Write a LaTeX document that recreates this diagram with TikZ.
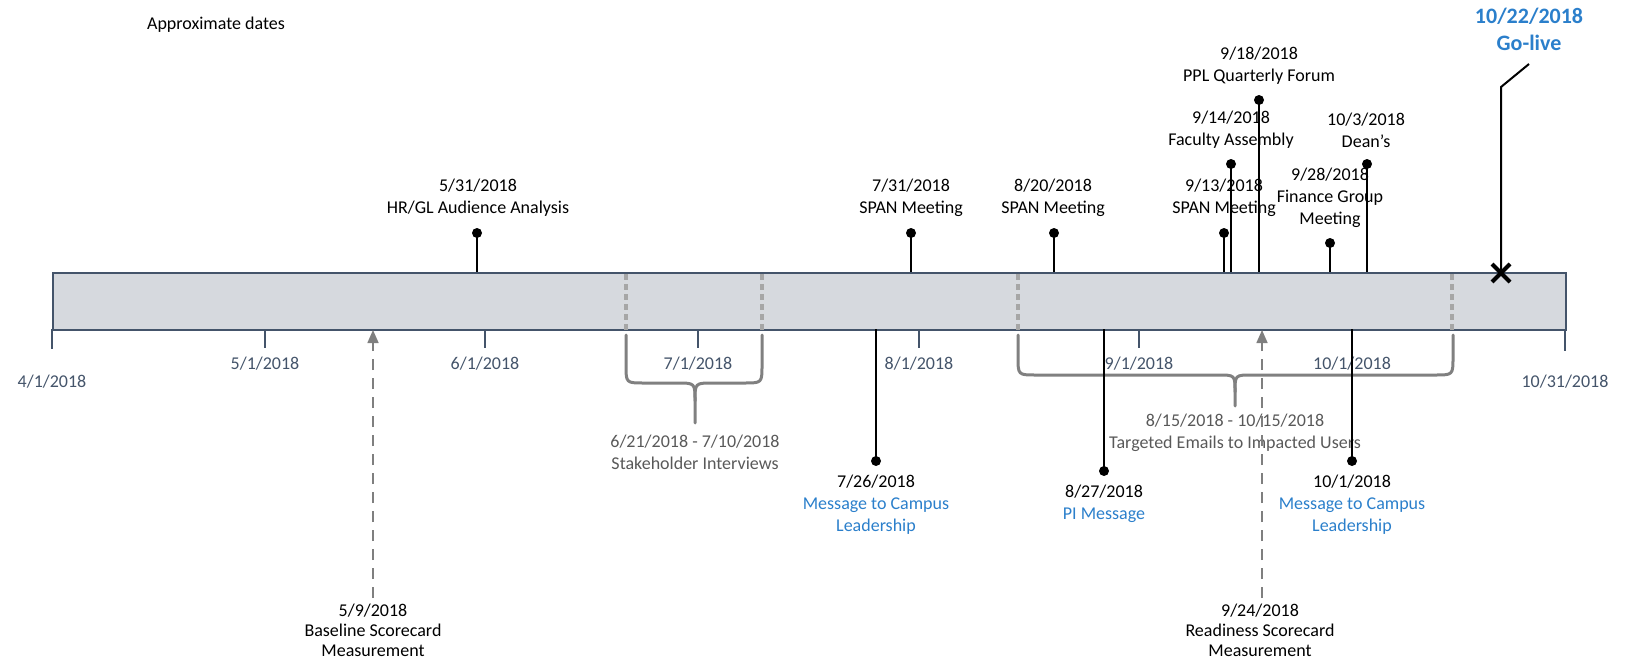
\documentclass[tikz,border=0pt]{standalone}
\usepackage{fontspec}
\setmainfont{Carlito}
\usetikzlibrary{arrows.meta}
\definecolor{slate}{HTML}{44546A}
\definecolor{barfill}{HTML}{D6D9DE}
\definecolor{tblue}{HTML}{2B7FCB}
\definecolor{bracegray}{HTML}{808080}
\definecolor{txgray}{HTML}{595959}
\definecolor{dashgray}{HTML}{A6A6A6}
\definecolor{arrgray}{HTML}{7F7F7F}
\begin{document}
\begin{tikzpicture}[x=1pt,y=-1pt,
  lbl/.style={font=\fontsize{18}{22}\selectfont, align=center, inner sep=0pt, text=black},
  scl/.style={font=\fontsize{18}{20}\selectfont, align=center, inner sep=0pt, text=black},
  ticklbl/.style={font=\fontsize{18}{22}\selectfont, inner sep=0pt, text=slate},
  brlbl/.style={lbl, text=txgray},
  dotnode/.style={circle, fill=black, inner sep=0pt, minimum size=10pt},
  stem/.style={line width=2pt, black},
  tickline/.style={line width=1.5pt, slate},
  bardash/.style={line width=4pt, dashgray, dash pattern=on 6pt off 4pt},
  bracepath/.style={line width=3pt, bracegray, line join=round, line cap=round},
  scorearrow/.style={line width=1.6pt, arrgray, dash pattern=on 11pt off 8pt, -{Triangle[width=11pt,length=13pt]}},
]
\useasboundingbox (0,0) rectangle (1630,658);

% header
\node[lbl] (approx) at (216,25) {Approximate dates};

% bar
\node[draw=slate, line width=1.5pt, fill=barfill, minimum width=1513pt, minimum height=57pt, inner sep=0pt, anchor=north west] (bar) at (52,272) {};

% ticks
\foreach \tx/\tl in {52/20, 265/19, 485/19, 698/19, 919/19, 1139/19, 1352/19, 1565/22}{
  \draw[tickline] (\tx,329) -- ++(0,\tl);
}

% tick labels
\node[ticklbl] (tk1) at (52,382) {4/1/2018};
\node[ticklbl] (tk2) at (265,364) {5/1/2018};
\node[ticklbl] (tk3) at (485,364) {6/1/2018};
\node[ticklbl] (tk4) at (698,364) {7/1/2018};
\node[ticklbl] (tk5) at (919,364) {8/1/2018};
\node[ticklbl] (tk6) at (1139,364) {9/1/2018};
\node[ticklbl] (tk7) at (1352,364) {10/1/2018};
\node[ticklbl] (tk8) at (1565,382) {10/31/2018};

% dashed range markers inside bar
\foreach \dx in {626,762,1018,1452}{
  \draw[bardash] (\dx,274) -- (\dx,333);
}

% braces
\coordinate (br1tip) at (695,423);
\draw[bracepath] (626,335) -- (626,365) .. controls (626,383) .. (644,383) -- (677,383) .. controls (695,383) .. (695,401) -- (br1tip);
\draw[bracepath] (762,335) -- (762,365) .. controls (762,383) .. (744,383) -- (713,383) .. controls (695,383) .. (695,401);
\coordinate (br2tip) at (1235,406);
\draw[bracepath] (1018,335) -- (1018,357) .. controls (1018,375) .. (1036,375) -- (1218,375) .. controls (1235,375) .. (1235,392) -- (br2tip);
\draw[bracepath] (1453,335) -- (1453,357) .. controls (1453,375) .. (1435,375) -- (1252,375) .. controls (1235,375) .. (1235,392);

\node[brlbl] (br1lbl) at (695,452) {6/21/2018 - 7/10/2018\\Stakeholder Interviews};
\node[brlbl] (br2lbl) at (1235,433) {8/15/2018 - 10/15/2018\\Targeted Emails to Impacted Users};

% top labels
\node[lbl] (l531) at (478,198) {5/31/2018\\HR/GL Audience Analysis};
\node[lbl] (l731) at (911,198) {7/31/2018\\SPAN Meeting};
\node[lbl] (l820) at (1053,198) {8/20/2018\\SPAN Meeting};
\node[lbl] (l913) at (1224,198) {9/13/2018\\SPAN Meeting};
\node[lbl] (l914) at (1231,130) {9/14/2018\\Faculty Assembly};
\node[lbl] (l918) at (1259,66) {9/18/2018\\PPL Quarterly Forum};
\node[lbl] (l928) at (1330,198) {9/28/2018\\Finance Group\\Meeting};
\node[lbl] (l103) at (1366,130) {10/3/2018\\Dean's};
\node[lbl, font=\bfseries\fontsize{22}{27}\selectfont, text=tblue] (golive) at (1529,29) {10/22/2018\\Go-live};

% bottom labels
\node[lbl] (l726) at (876,505) {7/26/2018\\\textcolor{tblue}{Message to Campus}\\\textcolor{tblue}{Leadership}};
\node[lbl] (l827) at (1104,504) {8/27/2018\\\textcolor{tblue}{PI Message}};
\node[lbl] (l101) at (1352,505) {10/1/2018\\\textcolor{tblue}{Message to Campus}\\\textcolor{tblue}{Leadership}};
\node[scl] (base) at (373,630) {5/9/2018\\Baseline Scorecard\\Measurement};
\node[scl] (ready) at (1260,630) {9/24/2018\\Readiness Scorecard\\Measurement};

% scorecard arrows
\coordinate (basetop) at (373,330);
\coordinate (readytop) at (1262,330);
\coordinate (basebot) at (373,598);
\coordinate (readybot) at (1262,598);
\draw[scorearrow] (basebot) -- (basetop);
\draw[scorearrow] (readybot) -- (readytop);

% top stems
\node[dotnode] (d531) at (477,233) {};
\node[dotnode] (d731) at (911,233) {};
\node[dotnode] (d820) at (1054,233) {};
\node[dotnode] (d913) at (1224,233) {};
\node[dotnode] (d914) at (1231,164) {};
\node[dotnode] (d918) at (1259,100) {};
\node[dotnode] (d928) at (1330,243) {};
\node[dotnode] (d103) at (1367,164) {};
\foreach \n/\x in {531/477, 731/911, 820/1054, 913/1224, 914/1231, 918/1259, 928/1330, 103/1367}{
  \coordinate (a\n) at (\x,272);
  \draw[stem] (d\n.center) -- (a\n);
}

% bottom stems
\node[dotnode] (d726) at (876,461) {};
\node[dotnode] (d827) at (1104,471) {};
\node[dotnode] (d101) at (1352,461) {};
\foreach \n/\x in {726/876, 827/1104, 101/1352}{
  \coordinate (a\n) at (\x,329);
  \draw[stem] (d\n.center) -- (a\n);
}

% go-live marker
\coordinate (gx) at (1501,273);
\coordinate (gbend) at (1501,87);
\coordinate (gend) at (1529,64);
\draw[stem] (gx) -- (gbend) -- (gend);
\draw[line width=4pt] (1492,264) -- (1510,282) (1492,282) -- (1510,264);

\end{tikzpicture}
\end{document}
